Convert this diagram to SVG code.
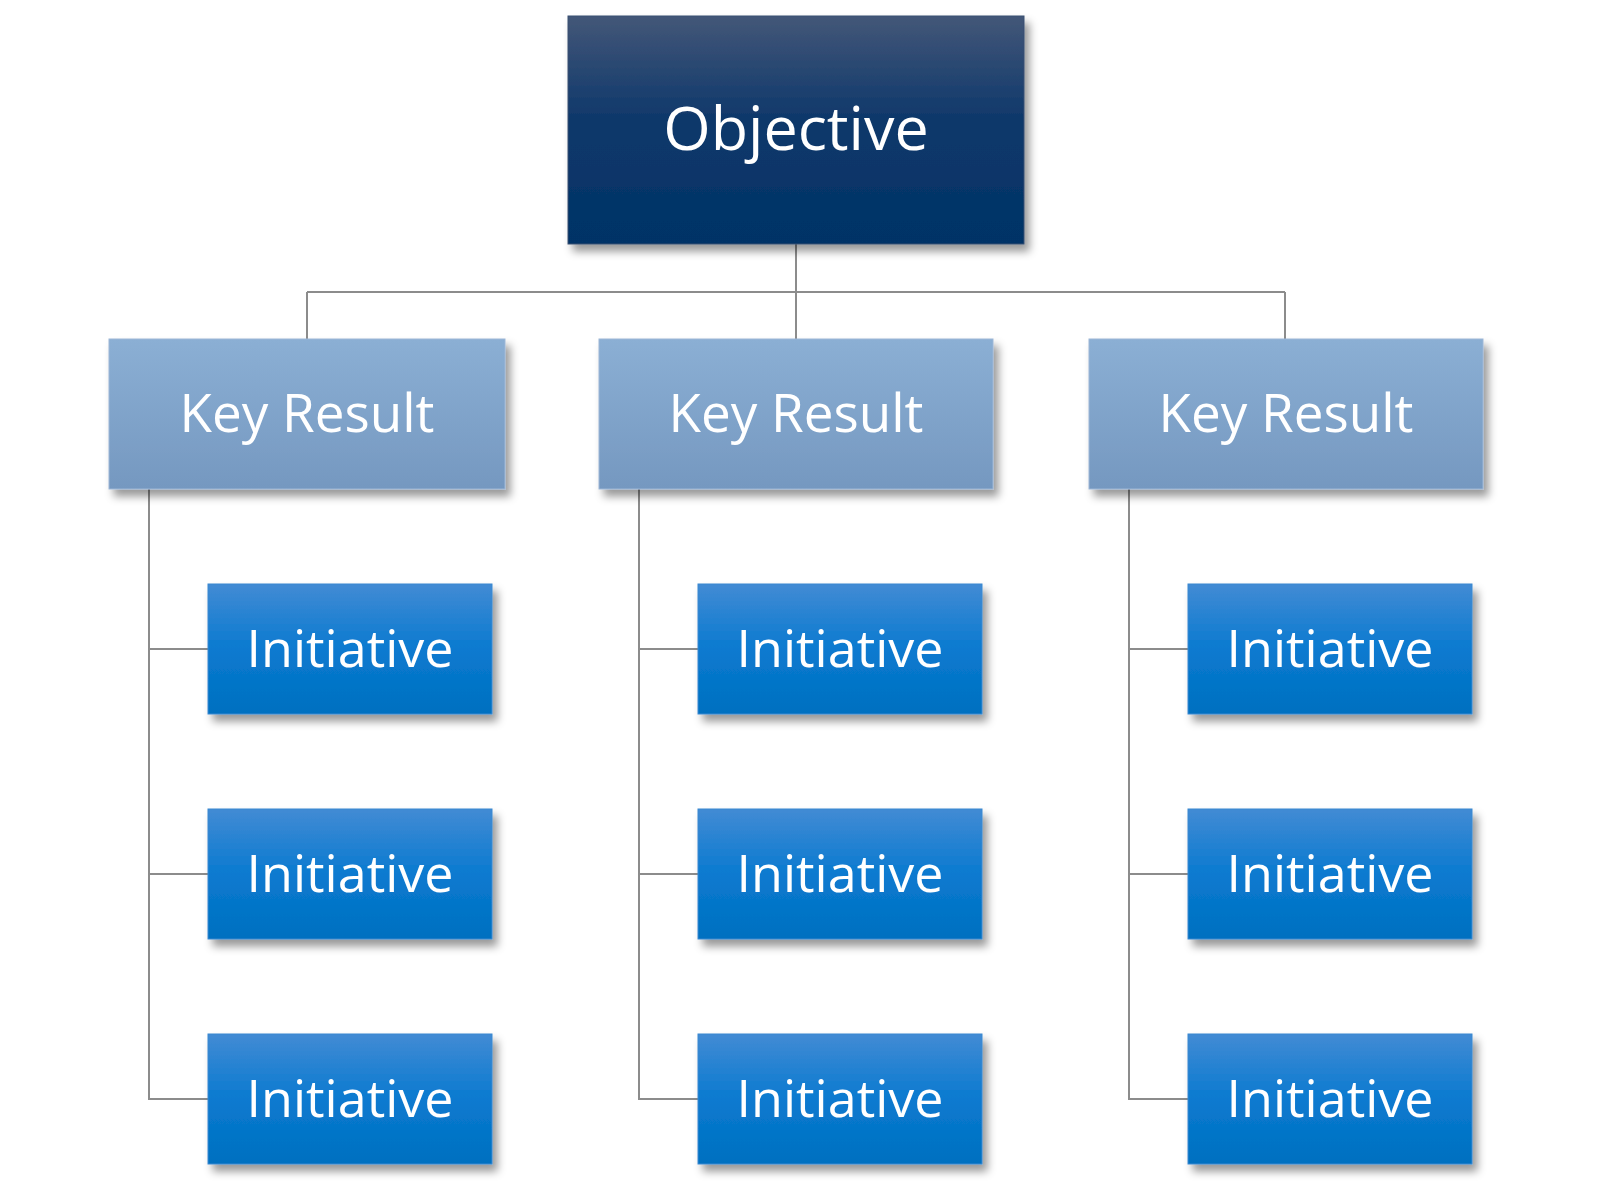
<svg xmlns="http://www.w3.org/2000/svg" width="1600" height="1195" viewBox="0 0 1600 1195">
<defs>
<linearGradient id="gObj" x1="0" y1="0" x2="0" y2="1">
<stop offset="0" stop-color="#435778"/>
<stop offset="0.45" stop-color="#0f386b"/>
<stop offset="1" stop-color="#003366"/>
</linearGradient>
<linearGradient id="gKr" x1="0" y1="0" x2="0" y2="1">
<stop offset="0" stop-color="#8bafd4"/>
<stop offset="1" stop-color="#7598c0"/>
</linearGradient>
<linearGradient id="gIn" x1="0" y1="0" x2="0" y2="1">
<stop offset="0" stop-color="#428bd4"/>
<stop offset="0.5" stop-color="#0a7ad0"/>
<stop offset="1" stop-color="#0070c0"/>
</linearGradient>
<filter id="sh" x="-10%" y="-10%" width="125%" height="130%">
<feDropShadow dx="5" dy="7" stdDeviation="4" flood-color="#000" flood-opacity="0.4"/>
</filter>
</defs>
<style>
.obj{fill:url(#gObj);stroke:#3a4f70;stroke-width:1;filter:url(#sh)}
.kr{fill:url(#gKr);stroke:#9cb6d6;stroke-width:1;filter:url(#sh)}
.in{fill:url(#gIn);stroke:#3a88d0;stroke-width:1;filter:url(#sh)}
text{font-family:"Open Sans","Noto Sans","DejaVu Sans",sans-serif;fill:#fff;text-anchor:middle}
.t1{font-size:61px}
.t2{font-size:53px}
.t3{font-size:52px}
.c{fill:none;stroke:#8c8c8c;stroke-width:2}
</style>
<rect width="1600" height="1195" fill="#fff"/>
<g id="connectors">
<path class="c" d="M796 244V339M307 292H1285M307 292V339M1285 292V339"/>
<path class="c" d="M149 489V1099H208M149 649H208M149 874H208"/>
<path class="c" d="M639 489V1099H698M639 649H698M639 874H698"/>
<path class="c" d="M1129 489V1099H1188M1129 649H1188M1129 874H1188"/>
</g>
<g id="objective"><rect class="obj" x="568" y="16" width="456" height="228"/><text class="t1" x="796" y="150">Objective</text></g>
<g id="kr1"><rect class="kr" x="109" y="339" width="396" height="150"/><text class="t2" x="307" y="432">Key Result</text></g>
<g id="kr2"><rect class="kr" x="599" y="339" width="394" height="150"/><text class="t2" x="796" y="432">Key Result</text></g>
<g id="kr3"><rect class="kr" x="1089" y="339" width="394" height="150"/><text class="t2" x="1286" y="432">Key Result</text></g>
<g id="in11"><rect class="in" x="208" y="584" width="284" height="130"/><text class="t3" x="350" y="667">Initiative</text></g>
<g id="in12"><rect class="in" x="208" y="809" width="284" height="130"/><text class="t3" x="350" y="892">Initiative</text></g>
<g id="in13"><rect class="in" x="208" y="1034" width="284" height="130"/><text class="t3" x="350" y="1117">Initiative</text></g>
<g id="in21"><rect class="in" x="698" y="584" width="284" height="130"/><text class="t3" x="840" y="667">Initiative</text></g>
<g id="in22"><rect class="in" x="698" y="809" width="284" height="130"/><text class="t3" x="840" y="892">Initiative</text></g>
<g id="in23"><rect class="in" x="698" y="1034" width="284" height="130"/><text class="t3" x="840" y="1117">Initiative</text></g>
<g id="in31"><rect class="in" x="1188" y="584" width="284" height="130"/><text class="t3" x="1330" y="667">Initiative</text></g>
<g id="in32"><rect class="in" x="1188" y="809" width="284" height="130"/><text class="t3" x="1330" y="892">Initiative</text></g>
<g id="in33"><rect class="in" x="1188" y="1034" width="284" height="130"/><text class="t3" x="1330" y="1117">Initiative</text></g>
</svg>
